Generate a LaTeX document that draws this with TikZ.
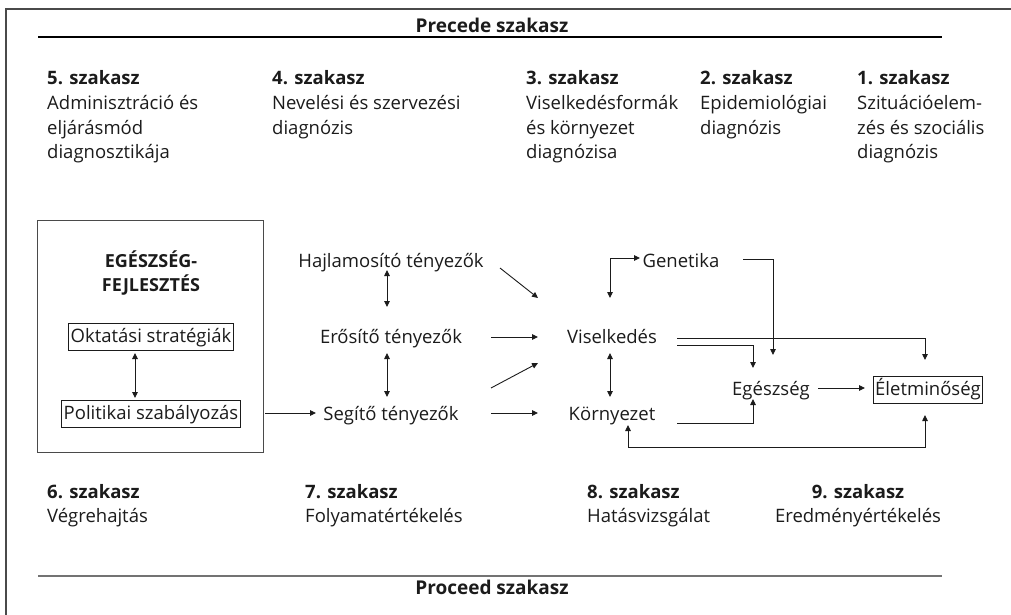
\documentclass[tikz,border=0pt]{standalone}
\usepackage{fontspec}
\setmainfont{Open Sans}
\usetikzlibrary{arrows.meta}
\definecolor{ink}{HTML}{1B1B1B}
\definecolor{frame}{HTML}{4A4A4A}
\begin{document}
\begin{tikzpicture}[x=1pt,y=-1pt,
  every node/.style={text=ink},
  txt/.style={font=\fontsize{18.5}{24.5}\selectfont, inner sep=0pt, anchor=base},
  col/.style={font=\fontsize{18.5}{24.5}\selectfont, inner sep=0pt, anchor=base west},
  ttl/.style={font=\fontsize{19}{20}\selectfont\bfseries, inner sep=0pt, anchor=base},
  boxed/.style={draw=ink, line width=0.9pt, font=\fontsize{18.5}{22}\selectfont, text height=14pt, text depth=4pt, inner ysep=4.5pt, inner xsep=2pt, anchor=base},
  bigbox/.style={draw=frame, line width=0.9pt, inner sep=0pt},
  arr/.style={draw=ink, line width=0.9pt, -{Triangle[length=6pt,width=5.5pt]}},
  darr/.style={draw=ink, line width=0.9pt, {Triangle[length=6pt,width=5.5pt]}-{Triangle[length=6pt,width=5.5pt]}}
]
\useasboundingbox (0,0) rectangle (1011,615);
% outer frame (left and top edges)
\draw[frame, line width=1.4pt] (6,615) -- (6,9) -- (1011,9);

% titles and rules
\node[ttl] (precede) at (492,33) {Precede szakasz};
\draw[black, line width=1.6pt] (38,37) -- (942,37);
\node[ttl] (proceed) at (492,594) {Proceed szakasz};
\draw[black!55, line width=1.2pt] (38,576) -- (942,576);

% top phases
\node[col] (p5) at (47,85) {\begin{tabular}[t]{@{}l@{}}\textbf{5. szakasz}\\Adminisztráció és\\eljárásmód\\diagnosztikája\end{tabular}};
\node[col] (p4) at (272,85) {\begin{tabular}[t]{@{}l@{}}\textbf{4. szakasz}\\Nevelési és szervezési\\diagnózis\end{tabular}};
\node[col] (p3) at (526,85) {\begin{tabular}[t]{@{}l@{}}\textbf{3. szakasz}\\Viselkedésformák\\és környezet\\diagnózisa\end{tabular}};
\node[col] (p2) at (700,85) {\begin{tabular}[t]{@{}l@{}}\textbf{2. szakasz}\\Epidemiológiai\\diagnózis\end{tabular}};
\node[col] (p1) at (857,85) {\begin{tabular}[t]{@{}l@{}}\textbf{1. szakasz}\\Szituációelem-\\zés és szociális\\diagnózis\end{tabular}};

% bottom phases
\node[col] (p6) at (47,498) {\begin{tabular}[t]{@{}l@{}}\textbf{6. szakasz}\\Végrehajtás\end{tabular}};
\node[col] (p7) at (305,498) {\begin{tabular}[t]{@{}l@{}}\textbf{7. szakasz}\\Folyamatértékelés\end{tabular}};
\node[col] (p8) at (587,498) {\begin{tabular}[t]{@{}l@{}}\textbf{8. szakasz}\\Hatásvizsgálat\end{tabular}};
\node[txt] (p9) at (858,498) {\begin{tabular}[t]{@{}c@{}}\textbf{9. szakasz}\\Eredményértékelés\end{tabular}};

% health promotion box
\node[bigbox, minimum width=226pt, minimum height=232pt] (ef) at (150.5,336) {};
\node[txt, font=\fontsize{18}{24}\selectfont\bfseries] (eftitle) at (151,267) {\begin{tabular}[t]{@{}c@{}}EGÉSZSÉG-\\FEJLESZTÉS\end{tabular}};
\node[boxed] (okt) at (151,342) {Oktatási stratégiák};
\node[boxed] (pol) at (151,419) {Politikai szabályozás};

% middle column
\node[txt] (haj) at (391,267) {Hajlamosító tényezők};
\node[txt] (ero) at (391,343) {Erősítő tényezők};
\node[txt] (seg) at (391,420) {Segítő tényezők};

% right part
\node[txt] (vis) at (612,343) {Viselkedés};
\node[txt] (kor) at (612,420) {Környezet};
\node[txt] (gen) at (681,267) {Genetika};
\node[txt] (egs) at (771,395) {Egészség};
\node[boxed] (elet) at (928,395) {Életminőség};

% coordinates for free ends
\coordinate (oktS) at (135,353);
\coordinate (polN) at (135,398);
\coordinate (polE) at (265,413);
\coordinate (segW) at (316,413);
\coordinate (hajS) at (387,270);
\coordinate (eroN) at (387,307);
\coordinate (eroS) at (387,353);
\coordinate (segN) at (387,397);
\coordinate (hajE) at (500,268);
\coordinate (visNW) at (538,298);
\coordinate (eroE) at (491,337);
\coordinate (visW) at (538,337);
\coordinate (segNE) at (491,388);
\coordinate (visSW) at (538,363);
\coordinate (segE) at (491,413);
\coordinate (korW) at (538,413);
\coordinate (genW) at (640,258);
\coordinate (visN) at (610,298);
\coordinate (genE) at (743,259);
\coordinate (egsNE) at (773,355);
\coordinate (visE1) at (677,338);
\coordinate (eletN) at (925,360);
\coordinate (visE2) at (677,345);
\coordinate (egsN) at (753,368);
\coordinate (visS) at (610,353);
\coordinate (korN) at (610,397);
\coordinate (egsE) at (818,388);
\coordinate (eletW) at (865,388);
\coordinate (korE) at (677,423);
\coordinate (egsS) at (753,399);
\coordinate (eletS) at (925,415);
\coordinate (korS) at (628,425);

% connectors
\draw[darr] (oktS) -- (polN);
\draw[arr] (polE) -- (segW);
\draw[darr] (hajS) -- (eroN);
\draw[darr] (eroS) -- (segN);
\draw[arr] (hajE) -- (visNW);
\draw[arr] (eroE) -- (visW);
\draw[arr] (segNE) -- (visSW);
\draw[arr] (segE) -- (korW);
\draw[darr] (genW) -| (visN);
\draw[arr] (genE) -| (egsNE);
\draw[arr] (visE1) -| (eletN);
\draw[arr] (visE2) -| (egsN);
\draw[darr] (visS) -- (korN);
\draw[arr] (egsE) -- (eletW);
\draw[arr] (korE) -| (egsS);
\draw[darr] (eletS) |- (628,447) -- (korS);
\end{tikzpicture}
\end{document}
